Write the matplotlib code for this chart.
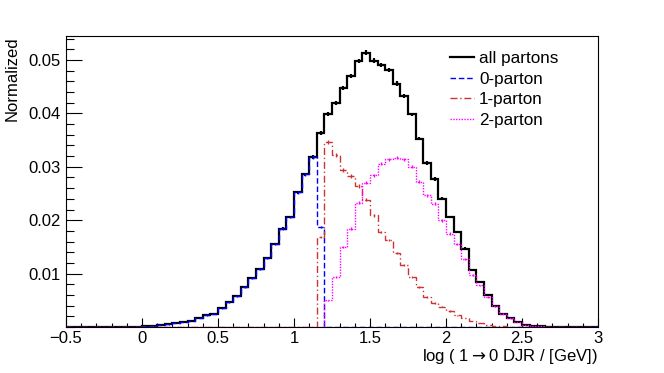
import numpy as np
import matplotlib
matplotlib.use("Agg")
import matplotlib.pyplot as plt

plt.rcParams["font.family"] = ["Liberation Sans", "DejaVu Sans"]
plt.rcParams["mathtext.fontset"] = "dejavusans"

# 70 bins of width 0.05 from -0.5 to 3.0
edges = np.linspace(-0.5, 3.0, 71)

all_partons = [0] * 9 + [0.00005] + [
    0.00012, 0.00025, 0.0004, 0.0005, 0.00075, 0.0009, 0.0011, 0.0017, 0.0022, 0.0025,
    0.0035, 0.0046, 0.0058, 0.0075, 0.0091, 0.0108, 0.0129, 0.0156, 0.0184, 0.0206,
    0.0252, 0.0286, 0.0318, 0.0363, 0.0399, 0.0419, 0.0448, 0.0470, 0.0498, 0.0514,
    0.0499, 0.0490, 0.0482, 0.0456, 0.0433, 0.0398, 0.0353, 0.0307, 0.0277, 0.0240,
    0.0206, 0.0178, 0.0147, 0.0107, 0.0084, 0.0059, 0.0039, 0.0025, 0.0017, 0.0009,
    0.0004, 0.0002, 0.0001, 0.00005] + [0] * 6

parton0 = [0] * 9 + [0.00005] + [
    0.00012, 0.00025, 0.0004, 0.0005, 0.00075, 0.0009, 0.0011, 0.0017, 0.0022, 0.0025,
    0.0035, 0.0046, 0.0058, 0.0075, 0.0091, 0.0108, 0.0129, 0.0156, 0.0184, 0.0206,
    0.0252, 0.0286, 0.0318, 0.0187] + [0] * 36

parton1 = [0] * 33 + [
    0.0169, 0.0347, 0.0322, 0.0294, 0.0283, 0.0264, 0.0238, 0.0209, 0.0178, 0.0163,
    0.0138, 0.0116, 0.0094, 0.0075, 0.0056, 0.0045, 0.0038, 0.0030, 0.0022, 0.0017,
    0.0011, 0.00075, 0.0004, 0.0002, 0.0001] + [0] * 12

parton2 = [0] * 34 + [
    0.0050, 0.0094, 0.0150, 0.0184, 0.0233, 0.0270, 0.0284, 0.0306, 0.0314, 0.0317,
    0.0314, 0.0300, 0.0272, 0.0247, 0.0231, 0.0200, 0.0175, 0.0156, 0.0128, 0.0097,
    0.0078, 0.0056, 0.0039, 0.0025, 0.0016, 0.0009, 0.0004, 0.0002, 0.0001] + [0] * 7

labels = ["all partons", "0-parton", "1-parton", "2-parton"]

fig = plt.figure(figsize=(6.64, 3.73), dpi=100)
ax = fig.add_axes([66 / 664, 46 / 373, 532 / 664, 291 / 373])

centers = 0.5 * (edges[:-1] + edges[1:])
styles = [
    (all_partons, "black", "-", 1.6),
    (parton0, "#0000ff", (0, (4, 2)), 1.0),
    (parton1, "#cc3333", (0, (5, 2, 1, 2)), 1.0),
    (parton2, "#ff00ff", (0, (1, 1)), 1.0),
]

handles = []
for (vals, col, ls, lw), lab in zip(styles, labels):
    v = np.array(vals, dtype=float)
    ax.stairs(v, edges, color=col, linestyle=ls, linewidth=lw, zorder=3 if col == "black" else 4)
    m = v > 0
    err = np.sqrt(v[m]) * 0.0018
    ax.errorbar(centers[m], v[m], yerr=err, fmt="none", ecolor=col, elinewidth=lw, zorder=3)
    h, = ax.plot([], [], color=col, linestyle=ls, linewidth=lw)
    handles.append(h)

ax.set_xlim(-0.5, 3.0)
ax.set_ylim(0, 0.0545)
ax.set_xticks(np.arange(-0.5, 3.01, 0.5))
ax.set_xticklabels(["\u22120.5", "0", "0.5", "1", "1.5", "2", "2.5", "3"])
ax.set_xticks(np.arange(-0.5, 3.01, 0.1), minor=True)
ax.set_yticks([0.01, 0.02, 0.03, 0.04, 0.05])
ax.set_yticklabels(["0.01", "0.02", "0.03", "0.04", "0.05"])
ax.set_yticks(np.arange(0, 0.0545, 0.002), minor=True)

ax.tick_params(axis="both", which="both", direction="in", labelsize=12, width=0.8)
ax.tick_params(axis="x", which="major", length=6.3, pad=3)
ax.tick_params(axis="x", which="minor", length=3.2)
ax.tick_params(axis="y", which="major", length=11.5, pad=4)
ax.tick_params(axis="y", which="minor", length=5.8)
for s in ax.spines.values():
    s.set_linewidth(0.8)

fig.text(598 / 664, (373 - 357) / 373, "log ( 1$\\rightarrow$0 DJR / [GeV])", ha="right", va="center", fontsize=12)
fig.text(12 / 664, (373 - 36) / 373, "Normalized", rotation=90, ha="center", va="top", fontsize=12)

ax.legend(handles, labels, loc="upper left", bbox_to_anchor=(450 / 664, (373 - 51) / 373),
          bbox_transform=fig.transFigure, frameon=False, fontsize=12.3, borderpad=0,
          borderaxespad=0, handlelength=1.4, handletextpad=0.3, labelspacing=0.33)

fig.savefig("out.png", dpi=100)
